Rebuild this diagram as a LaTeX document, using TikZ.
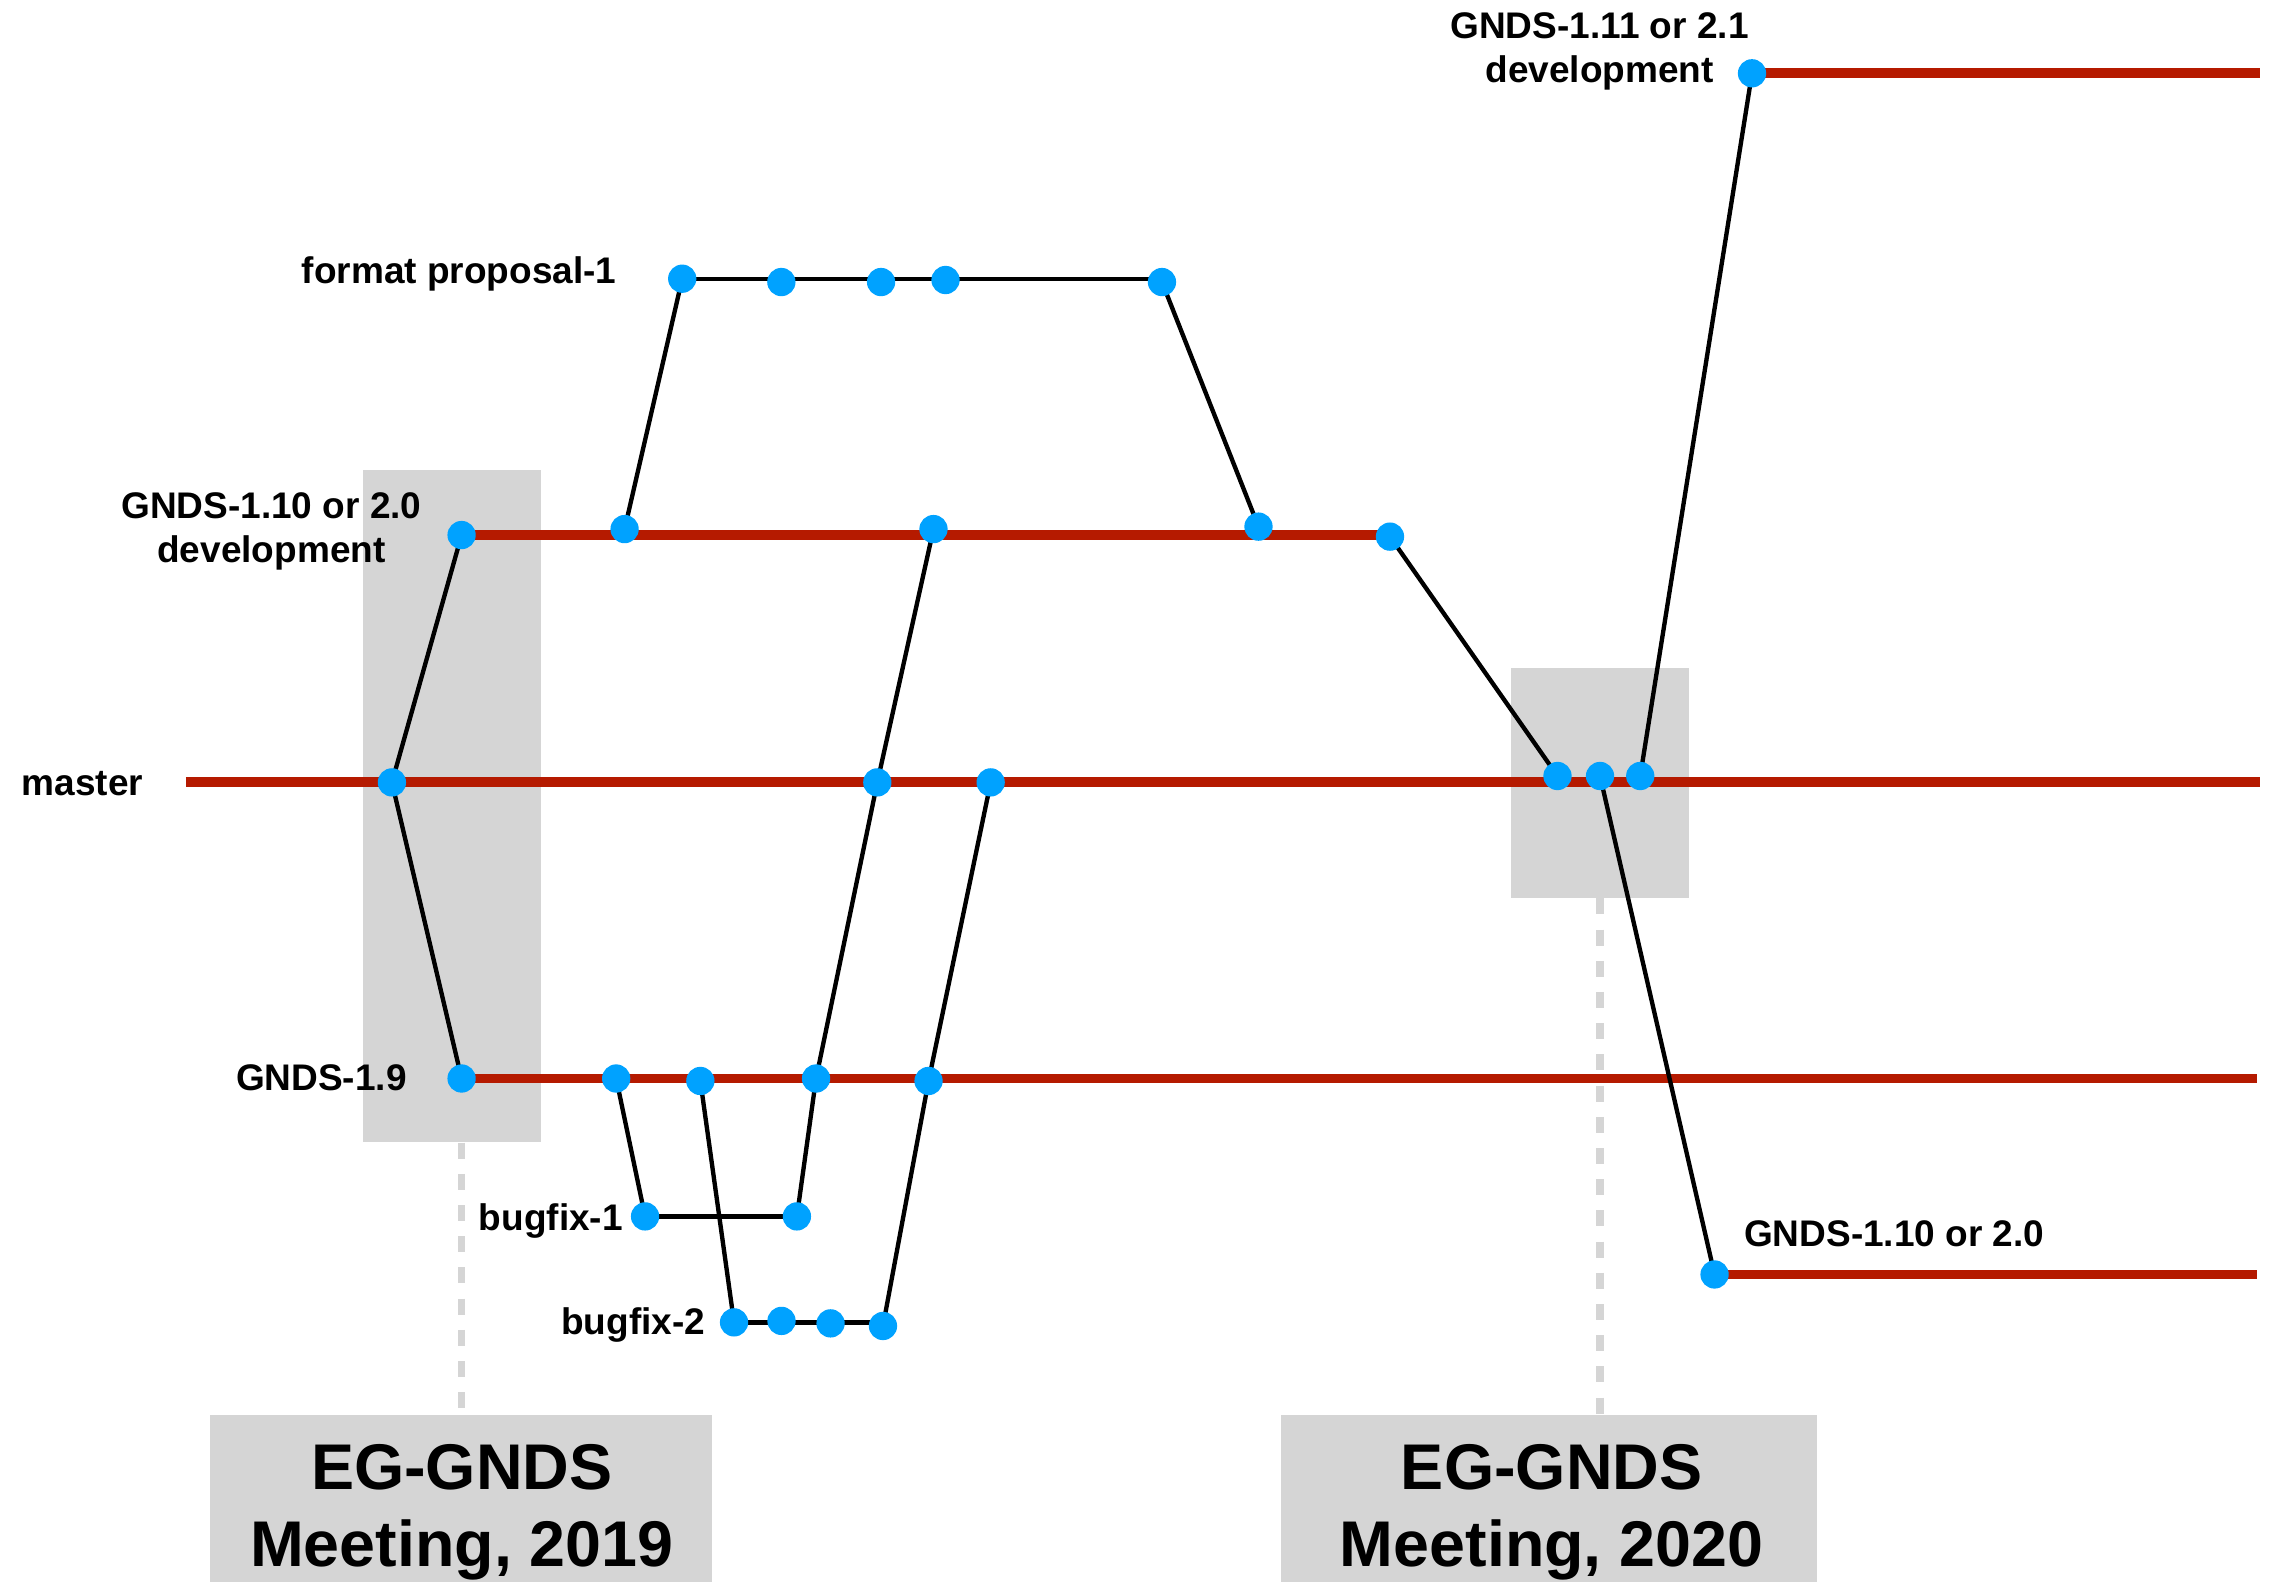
\documentclass[tikz,border=0pt]{standalone}
\usepackage{fontspec}
\setmainfont{Liberation Sans}
\pgfdeclarelayer{boxes}
\pgfdeclarelayer{lines}
\pgfsetlayers{boxes,lines,main}
\definecolor{branchred}{HTML}{B51A00}
\definecolor{dotblue}{HTML}{00A2FF}
\definecolor{boxgray}{HTML}{D5D5D5}
\tikzset{
  commit/.style={circle, fill=dotblue, draw=none, inner sep=0pt, minimum size=19.5pt},
  redline/.style={draw=branchred, line width=6.8pt},
  blk/.style={draw=black, line width=3pt},
  lbl/.style={font=\bfseries\fontsize{25.5}{30.5}\selectfont, inner sep=0pt, anchor=base, align=center},
  meettext/.style={font=\bfseries\fontsize{44.5}{53}\selectfont, inner sep=0pt, anchor=base, align=center},
  hlbox/.style={fill=boxgray, draw=none, inner sep=0pt},
  guideline/.style={draw=boxgray, line width=5pt, dash pattern=on 11pt off 10.5pt},
}
\begin{document}
\begin{tikzpicture}[x=1pt,y=-1pt]
\begin{pgfonlayer}{boxes}
\fill[white] (0,0) rectangle (1568,1090);
\end{pgfonlayer}
\useasboundingbox (0,0) rectangle (1568,1090);

% highlight and meeting boxes
\begin{pgfonlayer}{boxes}
\node[hlbox, minimum width=123pt, minimum height=463pt] (hl1) at (311.5,555.5) {};
\node[hlbox, minimum width=122.6pt, minimum height=158.7pt] (hl2) at (1102.3,539.35) {};
\node[hlbox, minimum width=345.9pt, minimum height=115pt] (mbox1) at (317.35,1032.5) {};
\node[hlbox, minimum width=369.2pt, minimum height=115pt] (mbox2) at (1067.2,1032.5) {};
\end{pgfonlayer}

% commits
\node[commit] (mA) at (270,539) {};
\node[commit] (mB) at (604.4,539) {};
\node[commit] (mC) at (682.5,539) {};
\node[commit] (mD) at (1073,534.6) {};
\node[commit] (mE) at (1102.3,534.6) {};
\node[commit] (mF) at (1130,534.6) {};

\node[commit] (dev0) at (318,368.6) {};
\node[commit] (dev1) at (430.3,364.5) {};
\node[commit] (dev2) at (643.1,364.5) {};
\node[commit] (dev3) at (867,362.8) {};
\node[commit] (dev4) at (957.6,369.7) {};

\node[commit] (fp0) at (470,192) {};
\node[commit] (fp1) at (538.3,194.3) {};
\node[commit] (fp2) at (607,194.3) {};
\node[commit] (fp3) at (651.4,192.9) {};
\node[commit] (fp4) at (800.5,194.3) {};

\node[commit] (n1) at (318,743) {};
\node[commit] (n2) at (424.5,743) {};
\node[commit] (n3) at (482.5,744.7) {};
\node[commit] (n4) at (562.2,743) {};
\node[commit] (n5) at (639.7,744.7) {};

\node[commit] (b1a) at (444.4,838) {};
\node[commit] (b1b) at (549,838) {};

\node[commit] (b2a) at (505.7,911) {};
\node[commit] (b2b) at (538.4,910) {};
\node[commit] (b2c) at (572.2,911.7) {};
\node[commit] (b2d) at (608.3,913.5) {};

\node[commit] (t0) at (1207,50.5) {};
\node[commit] (br) at (1181.2,878) {};

% free ends
\coordinate (mL) at (128,539);
\coordinate (mR) at (1557,539);
\coordinate (n19R) at (1555,743);
\coordinate (tR) at (1557,50.5);
\coordinate (brR) at (1555,878);

\begin{pgfonlayer}{lines}
% guides
\draw[guideline] (n1 |- hl1.south) -- (n1 |- mbox1.north);
\draw[guideline] (hl2.south) -- (mE |- mbox2.north);
% branches
\draw[redline] (mL) -- (mR);
\draw[redline] (dev0.center) -- (dev0.center -| dev4.center);
\draw[redline] (n1.center) -- (n19R);
\draw[redline] (t0.center) -- (tR);
\draw[redline] (br.center) -- (brR);
% links
\draw[blk] (mA.center) -- (dev0.center);
\draw[blk] (mA.center) -- (n1.center);
\draw[blk] (dev1.center) -- (fp0.center);
\draw[blk] (fp0.center) -- (fp0.center -| fp4.center);
\draw[blk] (fp4.center) -- (dev3.center);
\draw[blk] (dev4.center) -- (mD.center);
\draw[blk] (mF.center) -- (t0.center);
\draw[blk] (mE.center) -- (br.center);
\draw[blk] (dev2.center) -- (mB.center);
\draw[blk] (mB.center) -- (n4.center);
\draw[blk] (n4.center) -- (b1b.center);
\draw[blk] (mC.center) -- (n5.center);
\draw[blk] (n5.center) -- (b2d.center);
\draw[blk] (n2.center) -- (b1a.center);
\draw[blk] (n3.center) -- (b2a.center);
\draw[blk] (b1a.center) -- (b1b.center);
\draw[blk] (b2a.center) -- (b2a.center -| b2d.center);
\end{pgfonlayer}

% labels
\node[lbl] (lfp) at (316.3,195.2) {format proposal-1};
\node[lbl] (ldev) at (187,387.5) {GNDS-1.10 or 2.0\\development};
\node[lbl] (lmaster) at (56.9,547.7) {master};
\node[lbl] (l19) at (221.4,751.4) {GNDS-1.9};
\node[lbl] (lbf1) at (379.5,847.4) {bugfix-1};
\node[lbl] (lbf2) at (436.2,919.7) {bugfix-2};
\node[lbl] (lnext) at (1102,57) {GNDS-1.11 or 2.1\\development};
\node[lbl] (lrel) at (1305,859) {GNDS-1.10 or 2.0};
\node[meettext] (mt1) at (318.2,1079.4) {EG-GNDS\\Meeting, 2019};
\node[meettext] (mt2) at (1069,1079.4) {EG-GNDS\\Meeting, 2020};
\end{tikzpicture}
\end{document}
